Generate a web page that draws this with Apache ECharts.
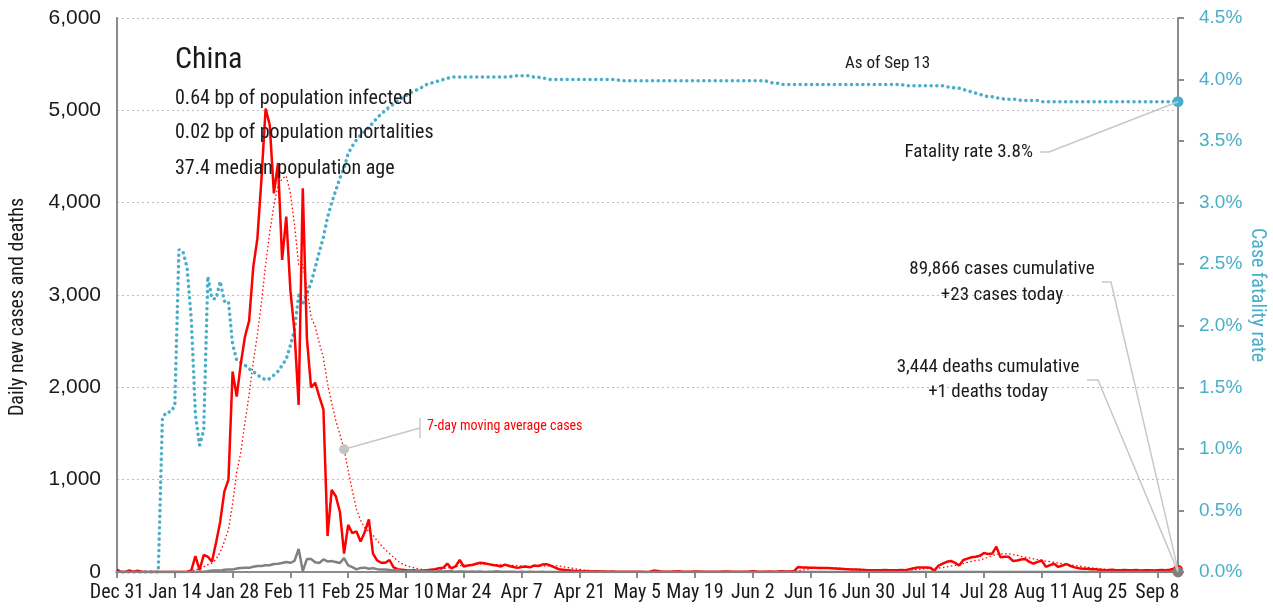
<!DOCTYPE html>
<html>
<head>
<meta charset="utf-8">
<title>China</title>
<script src="https://cdn.jsdelivr.net/npm/echarts@6/dist/echarts.min.js"></script>
<style>
  html, body { margin: 0; padding: 0; background: #fff; overflow: hidden; }
  #chart { width: 1273px; height: 613px; }
</style>
</head>
<body>
<div id="chart"></div>
<script>
// daily values, Dec 31 2019 .. Sep 13 2020 (one line per month)
const cases = [
  27,
  0,0,17,0,15,0,0,0,0,0, 0,0,0,0,0,0,4,17,173,20, 184,166,112,320,545,870,1000,2170,1900,2260, 2550,
  2720,3300,3610,4260,5020,4840,4100,4430,3380,3850, 3050,2600,1810,4155,2530,2000,2050,1900,1760,390, 890,820,650,200,510,420,440,330,430,
  570,200,125,100,100,130,50,30,25,20, 15,20,10,15,20,25,30,40,45,90, 40,60,130,60,70,75,90,100,95,85, 75,
  70,60,80,65,55,45,55,60,50,70, 65,80,85,70,50,30,25,20,15,10, 12,8,10,6,8,5,6,4,5,3,
  2,3,2,4,3,2,1,3,15,12, 4,2,3,5,7,4,3,2,5,6, 4,3,2,4,3,5,6,4,3,2, 3,
  5,8,5,4,3,6,4,5,8,6, 6,10,55,50,48,46,45,44,43,42, 40,38,36,32,30,28,26,24,22,20,
  20,18,20,22,20,18,20,22,20,30, 40,50,50,50,45,15,70,90,110,120, 100,70,130,145,160,165,175,205,195,200, 275,
  160,165,165,120,125,135,140,110,90,110, 125,55,75,90,55,70,85,65,50,40, 35,35,30,30,25,22,20,25,18,20, 22,
  20,18,22,15,20,18,15,20,22,18, 25,35,23
];

const maCases = [
  4,
  4,4,6,6,8,8,5,5,2,2, 0,0,0,0,0,0,1,3,28,30, 56,80,96,140,215,330,460,740,1080,1300, 1620,
  1920,2270,2570,2920,3330,3680,3970,4180,4260,4290, 4100,3760,3330,3330,3070,2760,2660,2480,2320,2040, 1830,1640,1490,1330,1100,880,680,560,480,
  440,400,340,290,240,200,160,120,90,70, 55,45,35,28,24,22,24,28,33,45, 48,55,68,72,78,80,85,88,86,84, 82,
  80,78,76,74,72,68,64,62,60,60, 62,64,66,68,68,65,58,50,42,35, 28,21,16,12,10,8,7,6,6,5,
  5,4,4,3,3,3,3,3,5,6, 6,6,6,6,6,5,4,3,4,4, 4,4,4,4,3,3,4,4,4,4, 4,
  4,5,5,5,5,5,5,5,5,5, 6,6,14,21,28,35,42,49,47,45, 44,43,41,39,36,34,32,29,27,25,
  23,22,21,20,20,20,20,20,20,21, 24,28,33,37,40,40,43,48,55,64, 71,79,91,104,115,125,130,145,160,175, 190,
  195,198,196,190,180,170,160,152,143,135, 128,118,112,105,97,90,83,77,71,64, 58,50,45,40,36,32,29,27,25,24, 23,
  22,22,21,21,20,20,19,19,19,19, 20,21,22
];

const deaths = [
  0,
  0,0,0,0,0,0,0,0,0,0, 1,0,0,0,0,0,0,0,0,3, 3,8,16,15,15,24,26,26,38,43, 46,
  45,57,64,65,73,73,86,89,97,108, 100,120,250,10,140,140,105,98,136,114, 118,109,97,150,71,52,29,44,47,
  35,42,31,28,27,22,17,22,11,7, 13,10,14,13,11,8,3,7,6,9, 7,4,6,5,3,5,3,5,1,3, 4,
  7,2,4,3,3,1,2,1,3,1, 1,2,1,1,0,0,0,0,0,0, 0,0,0,0,0,0,0,0,0,0,
  0,0,0,0,0,0,0,0,0,0, 0,0,0,0,0,0,0,0,0,0, 0,0,0,0,0,0,0,0,0,0, 0,
  0,0,0,0,0,0,0,0,0,0, 0,0,0,0,0,0,0,0,0,0, 0,0,0,0,0,0,0,0,0,0,
  0,0,0,0,0,0,0,0,0,0, 0,0,0,0,0,0,0,0,0,0, 0,0,0,0,0,0,0,0,0,0, 0,
  0,0,0,0,0,0,0,0,0,0, 0,0,0,0,0,0,0,0,0,0, 0,0,0,0,0,0,0,0,0,0, 0,
  0,0,0,0,0,0,0,0,0,0, 0,0,1
];

// case fatality rate, %
const fatalityRate = [
  0,
  0,0,0,0,0,0,0,0,0,0, 1.25,1.30,1.30,1.35,2.62,2.60,2.47,2.05,1.28,1.03, 1.15,2.40,2.22,2.22,2.36,2.20,2.20,1.85,1.72,1.70, 1.68,
  1.65,1.63,1.60,1.58,1.56,1.57,1.60,1.63,1.68,1.73, 1.84,1.97,2.25,2.18,2.26,2.35,2.47,2.60,2.72,2.88, 3.00,3.10,3.20,3.28,3.40,3.46,3.51,3.55,3.58,
  3.61,3.65,3.69,3.72,3.75,3.78,3.80,3.83,3.85,3.87, 3.89,3.91,3.92,3.94,3.96,3.97,3.98,3.99,4.00,4.01, 4.02,4.02,4.02,4.02,4.02,4.02,4.02,4.02,4.02,4.02, 4.02,
  4.02,4.02,4.02,4.02,4.03,4.03,4.03,4.03,4.03,4.02, 4.02,4.01,4.01,4.00,4.00,4.00,4.00,4.00,4.00,4.00, 4.00,4.00,4.00,4.00,4.00,4.00,4.00,4.00,4.00,4.00,
  3.99,3.99,3.99,3.99,3.99,3.99,3.99,3.99,3.99,3.99, 3.99,3.99,3.99,3.99,3.99,3.99,3.99,3.99,3.99,3.99, 3.99,3.99,3.99,3.99,3.99,3.99,3.99,3.99,3.99,3.99, 3.99,
  3.99,3.99,3.99,3.99,3.99,3.98,3.97,3.97,3.96,3.96, 3.96,3.96,3.96,3.96,3.96,3.96,3.96,3.96,3.96,3.96, 3.96,3.96,3.96,3.96,3.96,3.96,3.96,3.96,3.96,3.96,
  3.96,3.96,3.96,3.96,3.96,3.96,3.96,3.96,3.95,3.95, 3.95,3.95,3.95,3.95,3.95,3.95,3.95,3.95,3.94,3.94, 3.93,3.93,3.92,3.91,3.90,3.89,3.88,3.87,3.86,3.86, 3.85,
  3.85,3.84,3.84,3.84,3.84,3.83,3.83,3.83,3.83,3.83, 3.82,3.82,3.82,3.82,3.82,3.82,3.82,3.82,3.82,3.82, 3.82,3.82,3.82,3.82,3.82,3.82,3.82,3.82,3.82,3.82, 3.82,
  3.82,3.82,3.82,3.82,3.82,3.82,3.82,3.82,3.82,3.82, 3.82,3.82,3.82
];

const tickLabels = ['Dec 31', 'Jan 14', 'Jan 28', 'Feb 11', 'Feb 25', 'Mar 10', 'Mar 24', 'Apr 7', 'Apr 21',
  'May 5', 'May 19', 'Jun 2', 'Jun 16', 'Jun 30', 'Jul 14', 'Jul 28', 'Aug 11', 'Aug 25', 'Sep 8'];

const infoLines = ['0.64 bp of population infected', '0.02 bp of population mortalities', '37.4 median population age'];

const MONTHS = ['Jan', 'Feb', 'Mar', 'Apr', 'May', 'Jun', 'Jul', 'Aug', 'Sep', 'Oct', 'Nov', 'Dec'];
const dates = [];
const start = Date.UTC(2019, 11, 31);
for (let i = 0; i < cases.length; i++) {
  const d = new Date(start + i * 86400000);
  dates.push(MONTHS[d.getUTCMonth()] + ' ' + d.getUTCDate());
}

const NARROW = '"Liberation Sans Narrow", "Roboto Condensed", "DejaVu Sans Condensed", sans-serif';
const PLAIN = '"Liberation Sans", Arial, sans-serif';
const TEAL = '#4aaec8';
const RED = '#ff0000';
const GREY = '#808080';
const AXIS = '#8c8c8c';
const TEXT = '#1a1a1a';

const last = dates.length - 1;
const noteIdx = 55;
const showTick = (idx, val) => tickLabels.indexOf(val) >= 0;

const chart = echarts.init(document.getElementById('chart'));

chart.setOption({
  animation: false,
  grid: { left: 117, right: 95, top: 18, bottom: 41, outerBoundsMode: 'none' },
  xAxis: {
    type: 'category',
    data: dates,
    boundaryGap: false,
    axisLine: { lineStyle: { color: AXIS, width: 2 } },
    axisTick: { interval: showTick, length: 6, lineStyle: { color: AXIS, width: 2 } },
    axisLabel: { interval: showTick, color: TEXT, fontFamily: NARROW, fontSize: 20, margin: 11 },
    splitLine: { show: false }
  },
  yAxis: [{
    type: 'value',
    min: 0,
    max: 6000,
    interval: 1000,
    position: 'left',
    name: 'Daily new cases and deaths',
    nameLocation: 'middle',
    nameGap: 89,
    nameRotate: 90,
    nameMoveOverlap: false,
    nameTextStyle: { fontFamily: NARROW, fontSize: 20, color: TEXT, padding: [0, 24, 0, 0] },
    axisLine: { show: true, lineStyle: { color: AXIS, width: 2 } },
    axisTick: { show: false },
    axisLabel: {
      formatter: (v) => v.toLocaleString('en-US'),
      fontFamily: PLAIN, fontSize: 21, color: TEXT, margin: 16
    },
    splitLine: { lineStyle: { type: [2, 3], color: '#bdbdbd', width: 1 } }
  }, {
    type: 'value',
    min: 0,
    max: 4.5,
    interval: 0.5,
    position: 'right',
    name: 'Case fatality rate',
    nameLocation: 'middle',
    nameGap: 69,
    nameRotate: -90,
    nameMoveOverlap: false,
    nameTextStyle: { fontFamily: NARROW, fontSize: 20, color: TEAL },
    axisLine: { show: true, lineStyle: { color: AXIS, width: 2 } },
    axisTick: { show: true, length: 6, lineStyle: { color: AXIS, width: 2 } },
    axisLabel: {
      formatter: (v) => v.toFixed(1) + '%',
      fontFamily: PLAIN, fontSize: 19, color: TEAL, margin: 21
    },
    splitLine: { show: false }
  }],
  series: [{
    name: 'Case fatality rate',
    type: 'line',
    yAxisIndex: 1,
    data: fatalityRate,
    symbol: 'none',
    lineStyle: { color: TEAL, width: 3.5, type: [0.1, 5.6], cap: 'round' },
    markPoint: {
      silent: true,
      symbol: 'circle',
      symbolSize: 11,
      label: { show: false },
      itemStyle: { color: TEAL },
      data: [{ coord: [dates[last], fatalityRate[last]] }]
    },
    z: 1
  }, {
    name: '7-day moving average cases',
    type: 'line',
    data: maCases,
    symbol: 'none',
    lineStyle: { color: RED, width: 1.3, type: [1.5, 2.5] },
    z: 2
  }, {
    name: 'Daily new cases',
    type: 'line',
    data: cases,
    symbol: 'none',
    lineStyle: { color: RED, width: 2.5 },
    markPoint: {
      silent: true,
      symbol: 'circle',
      symbolSize: 8,
      label: { show: false },
      itemStyle: { color: '#fff', borderColor: RED, borderWidth: 2 },
      data: [{ coord: [dates[last], cases[last]] }]
    },
    z: 3
  }, {
    name: 'Daily deaths',
    type: 'line',
    data: deaths,
    symbol: 'none',
    lineStyle: { color: GREY, width: 2.5 },
    markPoint: {
      silent: true,
      symbol: 'circle',
      symbolSize: 11,
      label: { show: false },
      itemStyle: { color: GREY },
      data: [{ coord: [dates[last], deaths[last]] }]
    },
    z: 4
  }]
});

// annotations, anchored to the data where they point at it
const pRate = chart.convertToPixel({ seriesIndex: 0 }, [last, fatalityRate[last]]);
const pMa = chart.convertToPixel({ seriesIndex: 1 }, [noteIdx, maCases[noteIdx]]);
const pCase = chart.convertToPixel({ seriesIndex: 2 }, [last, cases[last]]);
const pDeath = chart.convertToPixel({ seriesIndex: 3 }, [last, deaths[last]]);

function label(text, x, y, size, align, color) {
  return {
    type: 'text', x: x, y: y, silent: true, z: 10,
    style: { text: text, fontFamily: NARROW, fontSize: size, fill: color || TEXT, align: align || 'left', verticalAlign: 'middle' }
  };
}
function leader(points) {
  return { type: 'polyline', silent: true, z: 9, shape: { points: points }, style: { stroke: '#c8c8c8', lineWidth: 1.5, fill: null } };
}

chart.setOption({
  graphic: [
    label('China', 175, 60, 30),
    label(infoLines[0], 175, 99, 20),
    label(infoLines[1], 175, 133, 20),
    label(infoLines[2], 175, 169, 20),
    label('As of Sep 13', 845, 64, 17),
    label('Fatality rate 3.8%', 1033, 152, 19, 'right'),
    leader([[1040, 152], [1049, 152], [pRate[0], pRate[1]]]),
    label('89,866 cases cumulative', 1002, 269, 19, 'center'),
    label('+23 cases today', 1002, 295, 19, 'center'),
    leader([[1102, 282], [1111, 282], [pCase[0], pCase[1]]]),
    label('3,444 deaths cumulative', 988, 367, 19, 'center'),
    label('+1 deaths today', 988, 392, 19, 'center'),
    leader([[1087, 380], [1098, 380], [pDeath[0], pDeath[1]]]),
    leader([[pMa[0], pMa[1]], [420, 428]]),
    leader([[420, 418], [420, 438]]),
    { type: 'circle', silent: true, z: 10, shape: { cx: pMa[0], cy: pMa[1], r: 5 }, style: { fill: '#c4c4c4' } },
    label('7-day moving average cases', 427, 426, 14, 'left', RED)
  ]
});
</script>
</body>
</html>
